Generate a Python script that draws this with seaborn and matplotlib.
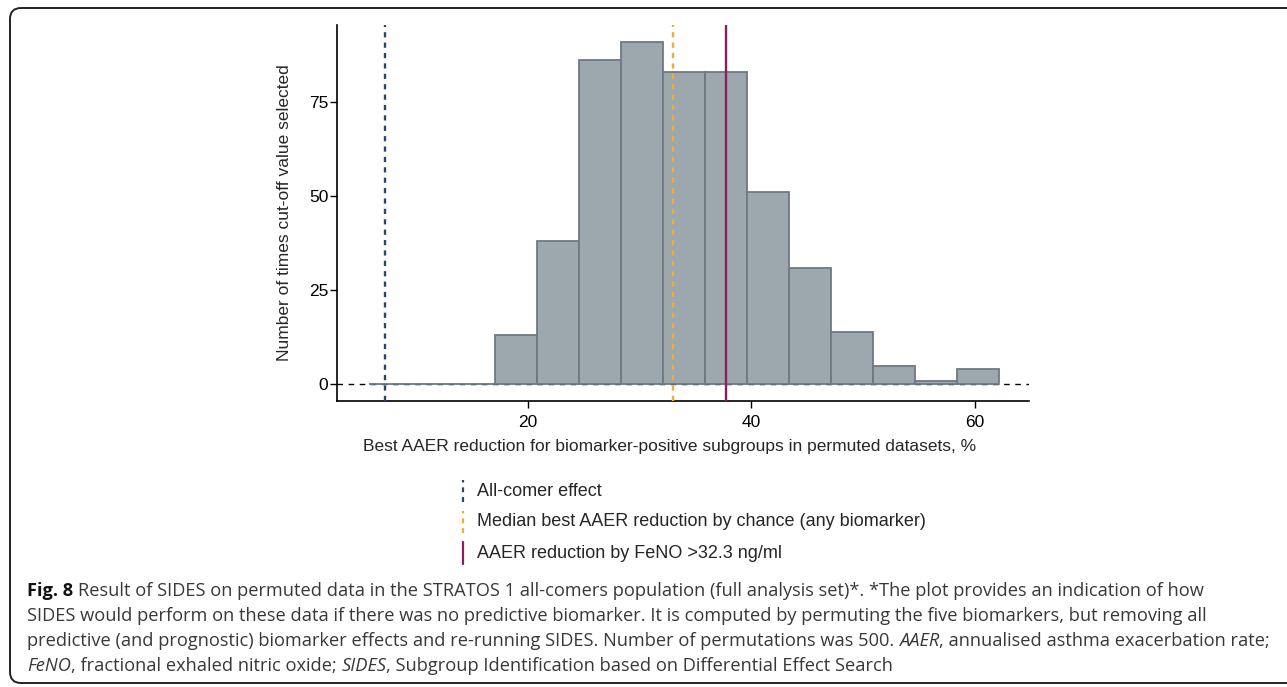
import numpy as np
import pandas as pd
import seaborn as sns
import matplotlib.pyplot as plt
from matplotlib.lines import Line2D
from matplotlib.patches import FancyBboxPatch
from matplotlib.transforms import IdentityTransform

# Histogram data (500 permutations)
bin_edges = [5.7, 9.47, 13.23, 17.0, 20.77, 24.53, 28.3, 32.07, 35.83,
             39.6, 43.37, 47.13, 50.9, 54.67, 58.43, 62.2]
bin_counts = [0, 0, 0, 13, 38, 86, 91, 83, 83, 51, 31, 14, 5, 1, 4]

# Reference lines
ref_labels = ["All-comer effect",
              "Median best AAER reduction by chance (any biomarker)",
              "AAER reduction by FeNO >32.3 ng/ml"]
ref_values = [7.2, 33.0, 37.7]
ref_colors = ["#27466b", "#f2ab35", "#8c1d5c"]
ref_styles = [(0, (2.2, 2.2)), (0, (2.2, 2.2)), "-"]

x_ticks = [20, 40, 60]
y_ticks = [0, 25, 50, 75]

W, H = 1287, 687

sns.set_style("ticks")
plt.rcParams["font.family"] = ["Liberation Sans", "DejaVu Sans"]

fig = plt.figure(figsize=(W / 100, H / 100), dpi=100)
ax = fig.add_axes([337.3 / W, 1 - 401 / H, (1029.3 - 337.3) / W, (401 - 25) / H])

df = pd.DataFrame({
    "centre": [(a + b) / 2 for a, b in zip(bin_edges[:-1], bin_edges[1:])],
    "count": bin_counts,
})

ax.axhline(0, color="black", lw=1, ls=(0, (4, 4)), zorder=0)

sns.histplot(
    data=df, x="centre", weights="count", bins=bin_edges,
    color="#9ca8ae", edgecolor="#6e7a81", linewidth=1.3, alpha=1, ax=ax,
)

for val, col, ls in zip(ref_values, ref_colors, ref_styles):
    ax.axvline(val, color=col, lw=1.7, ls=ls, zorder=3)

ax.set_xlim(2.9, 64.9)
ax.set_ylim(-4.4, 95.4)
ax.set_xticks(x_ticks)
ax.set_yticks(y_ticks)
ax.tick_params(labelsize=12.5, length=5, width=1, colors="black")
ax.tick_params(axis="x", pad=5)
ax.tick_params(axis="y", pad=1.5)
ax.set_xlabel("Best AAER reduction for biomarker-positive subgroups in permuted datasets, %",
              fontsize=12.5)
ax.set_ylabel("Number of times cut-off value selected", fontsize=12.5)
ax.xaxis.set_label_coords((670 - 337.3) / (1029.3 - 337.3), -(446 - 401) / (401 - 25))
ax.xaxis.label.set_va("center")
ax.yaxis.set_label_coords(-(337.3 - 284.5) / (1029.3 - 337.3), 0.5)
ax.yaxis.label.set_va("center")
sns.despine(ax=ax)
for s in ["left", "bottom"]:
    ax.spines[s].set_color("black")
    ax.spines[s].set_linewidth(1.2)

# Legend drawn below the axes with short vertical handles
rows_y = [491, 522, 553]
for lab, col, ls, yc in zip(ref_labels, ref_colors, ref_styles, rows_y):
    fig.add_artist(Line2D([462.7, 462.7], [H - yc - 11, H - yc + 11],
                          color=col, lw=1.6, ls=ls, transform=IdentityTransform()))
    fig.text(477 / W, 1 - yc / H, lab, fontsize=13, va="center", ha="left")

# Rounded frame around the figure
fig.add_artist(FancyBboxPatch((10, H - 683), 1320, 675,
                              boxstyle="round,pad=0,rounding_size=11",
                              fill=False, ec="#222222", lw=1.4,
                              transform=IdentityTransform()))

# Caption with mixed bold / italic runs
cap_font = ["Open Sans", "DejaVu Sans"]
cap_size = 13.15
cap_color = "#383838"
caption = [
    [("Fig. 8", "bold", "normal"),
     ("Result of SIDES on permuted data in the STRATOS 1 all-comers population (full analysis set)*. "
      "*The plot provides an indication of how", "normal", "normal")],
    [("SIDES would perform on these data if there was no predictive biomarker. It is computed by "
      "permuting the five biomarkers, but removing all", "normal", "normal")],
    [("predictive (and prognostic) biomarker effects and re-running SIDES. Number of permutations was 500.",
      "normal", "normal"),
     ("AAER", "normal", "italic"),
     (", annualised asthma exacerbation rate;", "normal", "normal", True)],
    [("FeNO", "normal", "italic"),
     (", fractional exhaled nitric oxide;", "normal", "normal", True),
     ("SIDES", "normal", "italic"),
     (", Subgroup Identification based on Differential Effect Search", "normal", "normal", True)],
]
baselines = [596, 621, 646, 671]

renderer = fig.canvas.get_renderer()
probe = fig.text(0, 0, "x x", family=cap_font, fontsize=cap_size)
w1 = probe.get_window_extent(renderer).width
probe.set_text("xx")
space_w = w1 - probe.get_window_extent(renderer).width
probe.remove()

for runs, yb in zip(caption, baselines):
    x = 27
    for i, run in enumerate(runs):
        txt, weight, style = run[0], run[1], run[2]
        glued = len(run) > 3
        if i > 0 and not glued:
            x += space_w
        t = fig.text(x / W, 1 - yb / H, txt, family=cap_font, fontsize=cap_size,
                     fontweight=weight, fontstyle=style, va="baseline", ha="left",
                     color="#111111" if weight == "bold" else cap_color)
        x = t.get_window_extent(renderer).x1

fig.savefig("out.png", dpi=100)
